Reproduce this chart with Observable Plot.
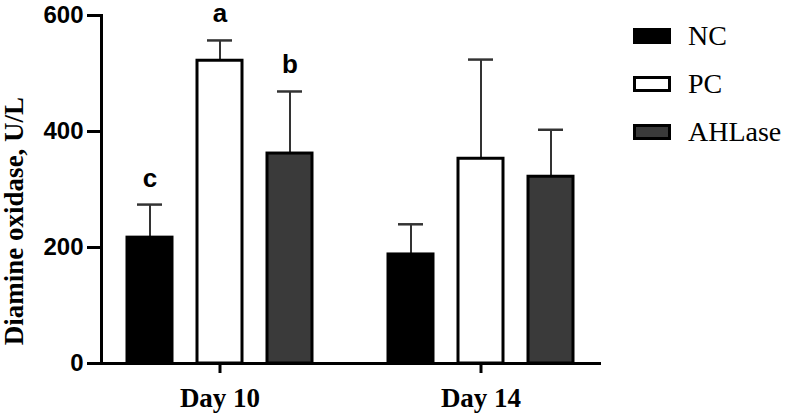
<!DOCTYPE html>
<html>
<head>
<meta charset="utf-8">
<script src="https://cdn.jsdelivr.net/npm/d3@7"></script>
<script src="https://cdn.jsdelivr.net/npm/@observablehq/plot@0.6"></script>
<style>
  html, body { margin: 0; padding: 0; background: #fff; }
  #wrap { position: relative; width: 786px; height: 417px; overflow: hidden; }
  #legend { position: absolute; left: 633px; top: 12px; font-family: "Liberation Serif", "Times New Roman", serif; font-size: 28px; color: #000; }
  .item { display: flex; align-items: center; height: 48px; }
  .sw { width: 38px; height: 16px; box-sizing: border-box; border: 3px solid #000; margin-right: 17px; }
  #ylabel { position: absolute; left: -136px; top: 205px; width: 300px; height: 32px; line-height: 32px; text-align: center;
            transform: rotate(-90deg); transform-origin: 150px 16px;
            font-family: "Liberation Serif", "Times New Roman", serif; font-weight: bold; font-size: 27px; color: #000; white-space: nowrap; }
</style>
</head>
<body>
<div id="wrap"></div>
<script>
const days = ["Day 10", "Day 14"];
const groups = ["NC", "PC", "AHLase"];
const colors = ["#000000", "#ffffff", "#3a3a3a"];
const day10Mean = [217, 522, 362];
const day10SD = [57, 35, 107];
const day14Mean = [188, 353, 322];
const day14SD = [52, 171, 81];
const day10Letters = ["c", "a", "b"];
const day14Letters = ["", "", ""];
const yTicks = [0, 200, 400, 600];
const yLabel = "Diamine oxidase, U/L";

const rows = [];
groups.forEach((g, i) => rows.push({day: days[0], group: g, mean: day10Mean[i], sd: day10SD[i], letter: day10Letters[i]}));
groups.forEach((g, i) => rows.push({day: days[1], group: g, mean: day14Mean[i], sd: day14SD[i], letter: day14Letters[i]}));

const sans = "'Liberation Sans', Arial, Helvetica, sans-serif";
const serif = "'Liberation Serif', 'Times New Roman', serif";

const chart = Plot.plot({
  width: 786,
  height: 417,
  marginLeft: 100,
  marginRight: 186,
  marginTop: 15,
  marginBottom: 54,
  style: {background: "white", color: "black", fontFamily: sans, overflow: "visible"},
  fx: {domain: days, paddingInner: 0.0916, paddingOuter: 0, label: null},
  x: {domain: groups, paddingInner: 0.36, paddingOuter: 0.362, axis: null},
  y: {domain: [0, 600], label: null},
  color: {domain: groups, range: colors},
  marks: [
    Plot.ruleX(rows, {fx: "day", x: "group", y1: "mean", y2: d => d.mean + d.sd, stroke: "#333", strokeWidth: 2}),
    Plot.tickY(rows, {fx: "day", x: "group", y: d => d.mean + d.sd, stroke: "#333", strokeWidth: 2.5, insetLeft: 10, insetRight: 10}),
    Plot.barY(rows, {fx: "day", x: "group", y: "mean", fill: "group", stroke: "#000", strokeWidth: 3}),
    Plot.text(rows.filter(d => d.letter), {fx: "day", x: "group", y: d => d.mean + d.sd, text: "letter", lineAnchor: "bottom", dy: -18, fontSize: 26, fontWeight: "bold", fontFamily: sans, fill: "#000"}),
    Plot.axisY({ticks: yTicks, tickSize: 14, tickPadding: 4, strokeWidth: 3, fontSize: 24, fontWeight: "bold", fontFamily: sans, label: null}),
    Plot.axisFx({anchor: "bottom", tickSize: 10, tickPadding: 14, strokeWidth: 3, fontSize: 27, fontWeight: "bold", fontFamily: serif, label: null}),
    Plot.frame({anchor: "left", facet: "super", stroke: "#000", strokeWidth: 3, strokeLinecap: "square"}),
    Plot.frame({anchor: "bottom", facet: "super", stroke: "#000", strokeWidth: 3, strokeLinecap: "square"})
  ]
});

const wrap = document.getElementById("wrap");
wrap.appendChild(chart);

const yl = document.createElement("div");
yl.id = "ylabel";
yl.textContent = yLabel;
wrap.appendChild(yl);

const legend = document.createElement("div");
legend.id = "legend";
groups.forEach((g, i) => {
  const item = document.createElement("div");
  item.className = "item";
  const sw = document.createElement("div");
  sw.className = "sw";
  sw.style.background = colors[i];
  const label = document.createElement("span");
  label.textContent = g;
  item.appendChild(sw);
  item.appendChild(label);
  legend.appendChild(item);
});
wrap.appendChild(legend);
</script>
</body>
</html>
